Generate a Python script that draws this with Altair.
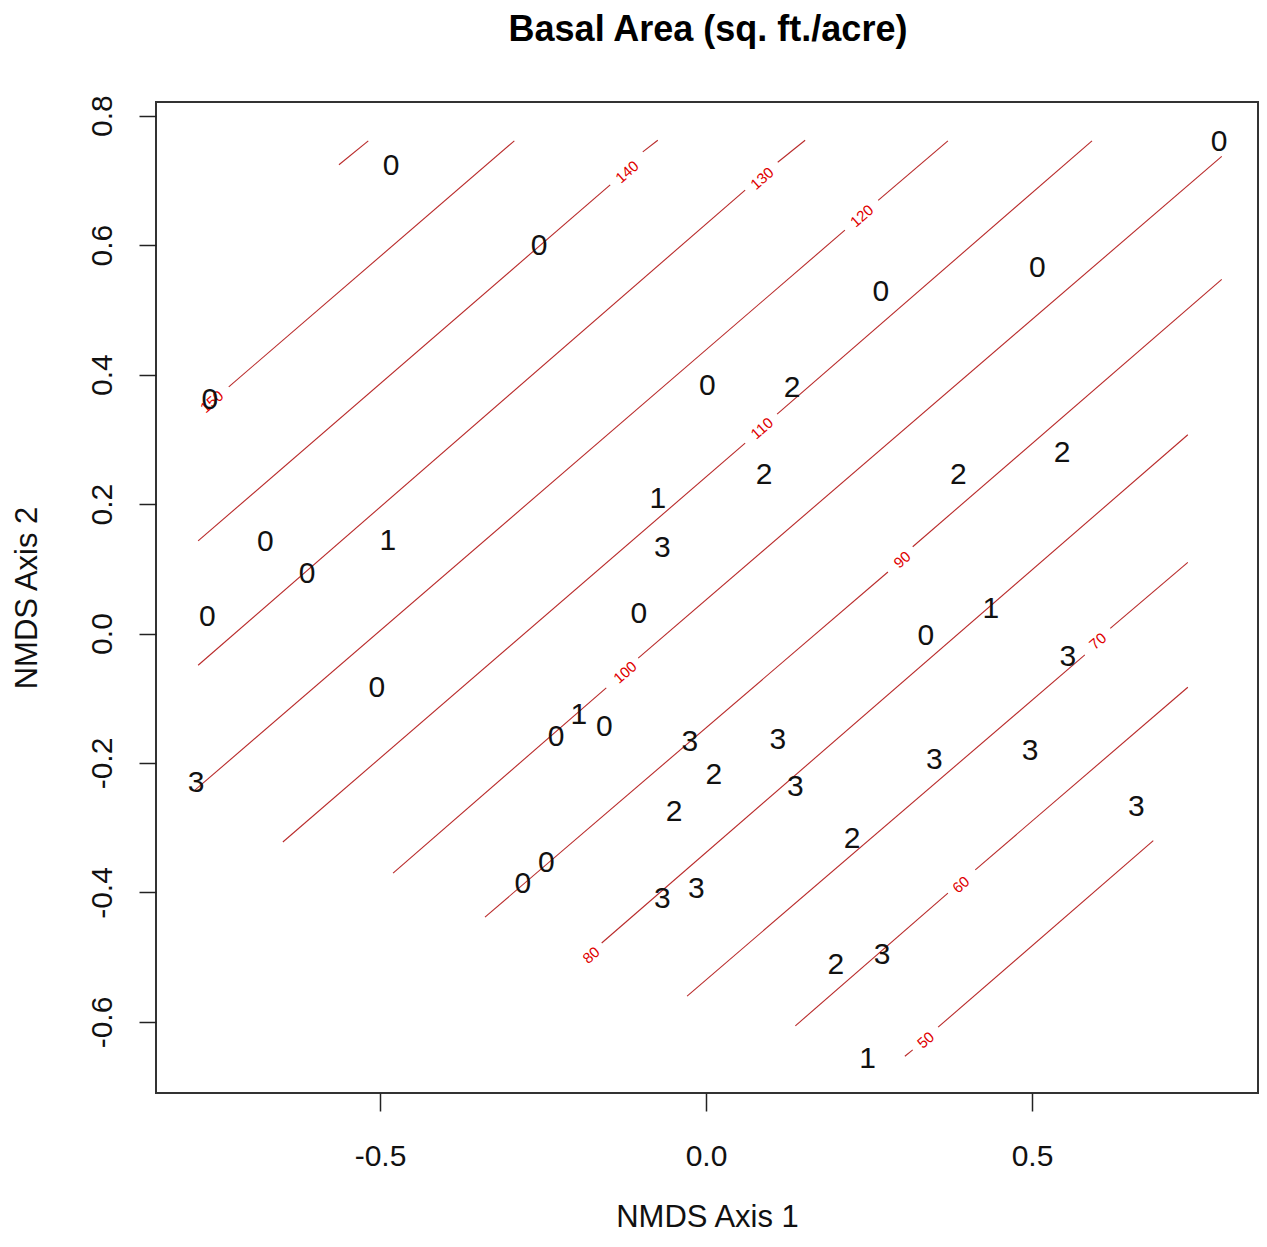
import altair as alt
import pandas as pd

# ---- site scores (NMDS axes) with their class labels ----
pt_x = [-0.483, -0.256, 0.787, 0.268, 0.508, -0.761, 0.002, 0.132, 0.089, 0.387,
        0.546, -0.074, -0.067, -0.676, -0.488, -0.612, -0.765, -0.103, 0.337, 0.437,
        0.555, -0.505, -0.195, -0.230, -0.156, -0.025, 0.110, 0.012, 0.137, 0.350,
        0.497, -0.782, -0.049, 0.224, 0.660, -0.245, -0.281, -0.067, -0.015, 0.199,
        0.270, 0.248]
pt_y = [0.722, 0.598, 0.759, 0.527, 0.564, 0.361, 0.382, 0.379, 0.245, 0.245,
        0.279, 0.208, 0.132, 0.141, 0.143, 0.092, 0.025, 0.030, -0.004, 0.038,
        -0.036, -0.084, -0.126, -0.160, -0.144, -0.168, -0.164, -0.219, -0.237, -0.195,
        -0.181, -0.231, -0.276, -0.317, -0.268, -0.354, -0.387, -0.410, -0.395, -0.512,
        -0.497, -0.657]
pt_lab = ["0", "0", "0", "0", "0", "0", "0", "2", "2", "2",
          "2", "1", "3", "0", "1", "0", "0", "0", "0", "1",
          "3", "0", "1", "0", "0", "3", "3", "2", "3", "3",
          "3", "3", "2", "2", "3", "0", "0", "3", "3", "2",
          "3", "1"]

# ---- fitted surface contours (segments, broken where labels sit) ----
seg_level = [160, 150, 140, 140, 130, 130, 120, 120, 110, 110,
             100, 100, 90, 90, 80, 70, 70, 60, 60, 50, 50]
seg_x1 = [-0.563, -0.732, -0.779, -0.097, -0.779, 0.110, -0.784, 0.264, -0.649, 0.109,
          -0.480, -0.104, -0.339, 0.317, -0.160, -0.029, 0.620, 0.137, 0.413, 0.305, 0.356]
seg_y1 = [0.724, 0.381, 0.143, 0.744, -0.049, 0.728, -0.242, 0.669, -0.322, 0.339,
          -0.370, -0.038, -0.438, 0.134, -0.478, -0.560, 0.008, -0.606, -0.365, -0.653, -0.608]
seg_x2 = [-0.518, -0.294, -0.147, -0.074, 0.060, 0.152, 0.213, 0.371, 0.060, 0.592,
          -0.153, 0.791, 0.279, 0.791, 0.739, 0.581, 0.739, 0.371, 0.739, 0.317, 0.686]
seg_y2 = [0.761, 0.761, 0.693, 0.762, 0.685, 0.762, 0.623, 0.761, 0.294, 0.761,
          -0.084, 0.737, 0.095, 0.547, 0.307, -0.033, 0.110, -0.401, -0.083, -0.643, -0.320]

# ---- contour labels ----
cl_text = ["150", "140", "130", "120", "110", "100", "90", "80", "70", "60", "50"]
cl_x = [-0.758, -0.121, 0.086, 0.239, 0.086, -0.124, 0.301, -0.176, 0.601, 0.391, 0.337]
cl_y = [0.358, 0.713, 0.703, 0.645, 0.317, -0.060, 0.114, -0.497, -0.012, -0.388, -0.628]

x_ticks = [-0.5, 0.0, 0.5]
y_ticks = [-0.6, -0.4, -0.2, 0.0, 0.2, 0.4, 0.6, 0.8]
x_dom = [-0.8436, 0.8466]
y_dom = [-0.7097, 0.821]

TITLE = "Basal Area (sq. ft./acre)"
FONT = "Liberation Sans"

pts = pd.DataFrame({"x": pt_x, "y": pt_y, "lab": pt_lab})
segs = pd.DataFrame({"level": seg_level, "x1": seg_x1, "y1": seg_y1,
                     "x2": seg_x2, "y2": seg_y2})
clabs = pd.DataFrame({"x": cl_x, "y": cl_y, "t": cl_text})
ttl = pd.DataFrame({"t": [TITLE]})

lab_expr = "replace(format(datum.value, '.1f'), '\u2212', '-')"

xscale = alt.Scale(domain=x_dom, nice=False, zero=False)
yscale = alt.Scale(domain=y_dom, nice=False, zero=False)

xaxis = alt.Axis(values=x_ticks, labelExpr=lab_expr, grid=False, domain=False,
                 tickSize=18, tickColor="#222", tickWidth=1.5,
                 labelFont=FONT, labelFontSize=30, labelColor="#111",
                 labelBaseline="middle", labelPadding=45, labelFlush=False,
                 title="NMDS Axis 1", titleFont=FONT, titleFontSize=31,
                 titleFontWeight="normal", titleColor="#111",
                 titleBaseline="middle", titleY=124)
yaxis = alt.Axis(values=y_ticks, labelExpr=lab_expr, grid=False, domain=False,
                 tickSize=17, tickColor="#222", tickWidth=1.5,
                 labelFont=FONT, labelFontSize=30, labelColor="#111",
                 labelAngle=270, labelAlign="center", labelBaseline="middle",
                 labelPadding=37, labelFlush=False, labelOverlap=False,
                 title="NMDS Axis 2", titleFont=FONT, titleFontSize=31,
                 titleFontWeight="normal", titleColor="#111",
                 titleAngle=270, titleAlign="center", titleBaseline="middle",
                 titleX=-129)

lines = alt.Chart(segs).mark_rule(color="#b92a2a", strokeWidth=1.1).encode(
    x=alt.X("x1:Q", scale=xscale, axis=xaxis),
    y=alt.Y("y1:Q", scale=yscale, axis=yaxis),
    x2="x2:Q",
    y2="y2:Q",
)

clab = alt.Chart(clabs).mark_text(
    font=FONT, fontSize=15, color="#e00000", angle=319,
    align="center", baseline="middle"
).encode(x="x:Q", y="y:Q", text="t:N")

ptext = alt.Chart(pts).mark_text(
    font=FONT, fontSize=30, color="#111", align="center", baseline="middle"
).encode(x="x:Q", y="y:Q", text="lab:N")

title_mark = alt.Chart(ttl).mark_text(
    font=FONT, fontSize=36, fontWeight="bold", color="#000",
    align="center", baseline="middle"
).encode(x=alt.value(552), y=alt.value(-72), text="t:N")

chart = alt.layer(lines, clab, ptext, title_mark).properties(
    width=1102,
    height=991,
    padding={"left": 148, "top": 94, "right": 1, "bottom": 141},
    autosize=alt.AutoSizeParams(type="none"),
    background="white",
).configure_view(stroke="#333", strokeWidth=2)

chart.save("out.html", embed_options={"renderer": "svg", "actions": False})
